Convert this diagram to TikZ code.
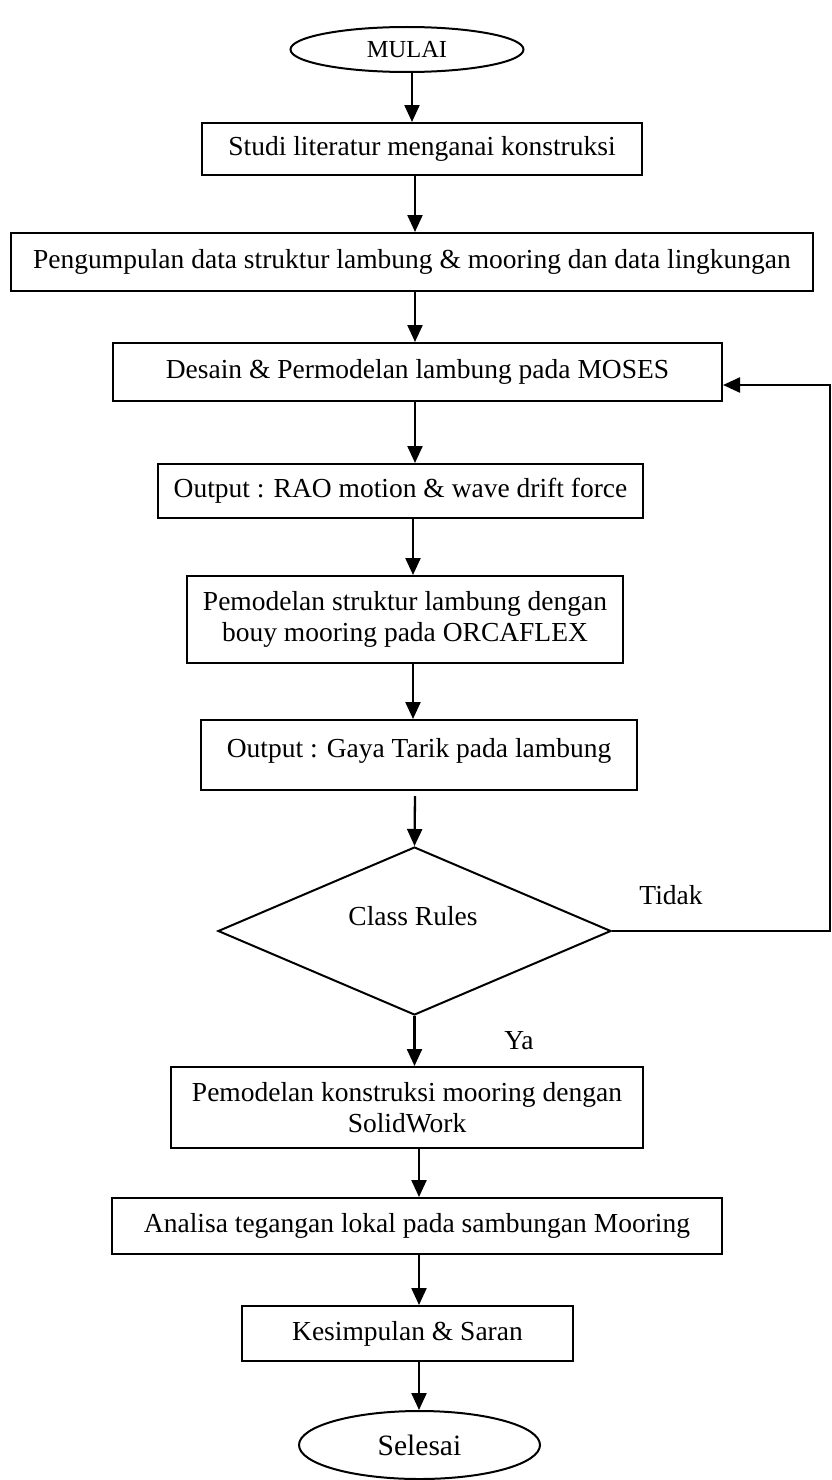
\documentclass[tikz,border=0pt]{standalone}
\usepackage{fontspec}
\setmainfont{Liberation Serif}
\usetikzlibrary{shapes.geometric,arrows.meta}
\begin{document}
\begin{tikzpicture}[x=1pt,y=-1pt,
  every node/.style={inner sep=0pt},
  txt/.style={font=\fontsize{27.5}{31.5}\selectfont},
  box/.style={draw, line width=2pt, rectangle, txt},
  term/.style={draw, line width=2pt, ellipse},
  dec/.style={draw, line width=2pt, diamond},
  arr/.style={line width=2.3pt, -{Triangle[length=17pt,width=15pt]}},
  ln/.style={line width=2pt}]
\useasboundingbox (0,0) rectangle (832,1480);

\node[term, minimum width=233pt, minimum height=45pt, font=\fontsize{24.5}{28}\selectfont] (start) at (407,49.5) {MULAI};
\node[box, minimum width=440pt, minimum height=52pt] (studi) at (422,149) {Studi literatur menganai konstruksi};
\node[box, minimum width=802pt, minimum height=58pt] (kumpul) at (412,262) {Pengumpulan data struktur lambung \& mooring dan data lingkungan};
\node[box, minimum width=609pt, minimum height=58pt] (desain) at (417.5,372) {Desain \& Permodelan lambung pada MOSES};
\node[box, minimum width=485pt, minimum height=54pt] (rao) at (400.5,491) {Output : RAO motion \& wave drift force};
\node[box, minimum width=436pt, minimum height=87pt, align=center] (orca) at (405,619.5) {Pemodelan struktur lambung dengan\\bouy mooring pada ORCAFLEX};
\node[box, minimum width=436pt, text height=37pt, text depth=33pt] (gaya) at (419,755) {Output : Gaya Tarik pada lambung};
\node[dec, minimum width=393pt, minimum height=168pt] (cr) at (414.5,931) {};
\node[txt] (crt) at (413,916) {Class Rules};
\node[txt] (tidak) at (671,895) {Tidak};
\node[txt] (ya) at (519,1041) {Ya};
\node[box, minimum width=472pt, minimum height=81pt, align=center] (solid) at (407,1107.5) {Pemodelan konstruksi mooring dengan\\SolidWork};
\node[box, minimum width=610pt, minimum height=56pt] (analisa) at (417,1226) {Analisa tegangan lokal pada sambungan Mooring};
\node[box, minimum width=331pt, minimum height=55pt] (kes) at (407.5,1333.5) {Kesimpulan \& Saran};
\node[term, minimum width=241pt, minimum height=68pt, font=\fontsize{29.5}{33}\selectfont] (end) at (419.5,1445) {Selesai};

\coordinate (g1) at (415,796);
\coordinate (fb) at (830,385);

\draw[arr] (start.south -| 412,0) -- (studi.north -| 412,0);
\draw[arr] (studi.south -| 415,0) -- (kumpul.north -| 415,0);
\draw[arr] (kumpul.south -| 415,0) -- (desain.north -| 415,0);
\draw[arr] (desain.south -| 415,0) -- (rao.north -| 415,0);
\draw[arr] (rao.south -| 413,0) -- (orca.north -| 413,0);
\draw[arr] (orca.south -| 413,0) -- (gaya.north -| 413,0);
\draw[arr] (g1) -- (cr.north);
\draw[arr] (cr.south) -- (solid.north -| cr.south);
\draw[arr] (solid.south -| 419,0) -- (analisa.north -| 419,0);
\draw[arr] (analisa.south -| 419,0) -- (kes.north -| 419,0);
\draw[arr] (kes.south -| 419,0) -- (end.north -| 419,0);
\draw[arr] (cr.east) -- (cr.east -| fb) -- (fb) -- (desain.east |- fb);
\end{tikzpicture}
\end{document}
